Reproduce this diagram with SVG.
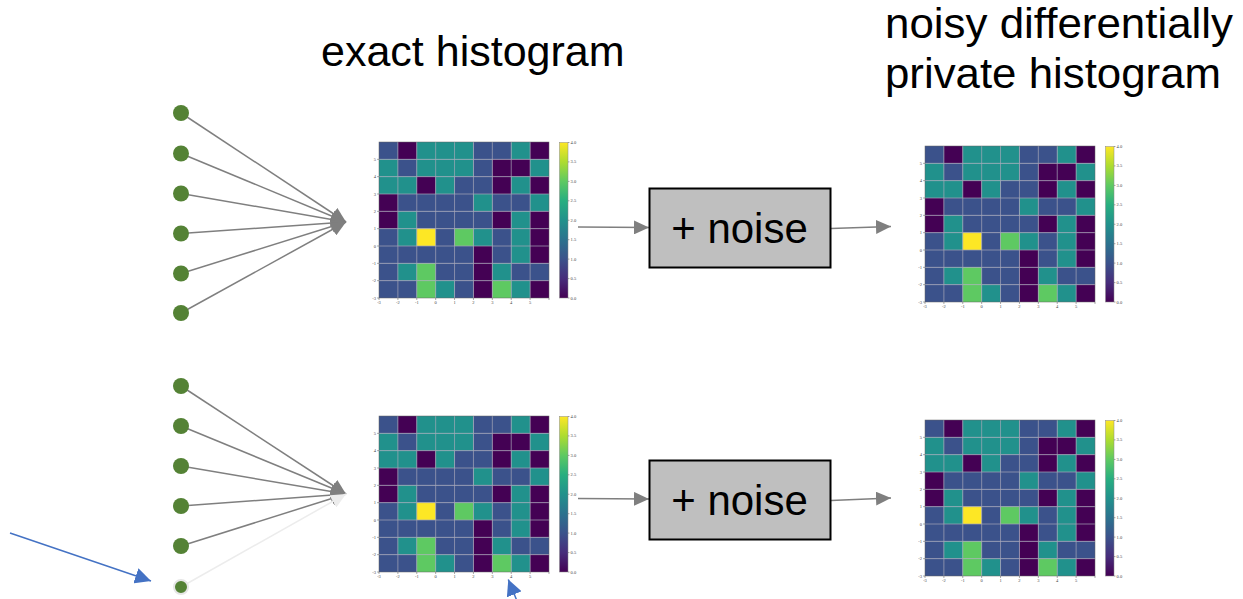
<svg xmlns="http://www.w3.org/2000/svg" xmlns:xlink="http://www.w3.org/1999/xlink" width="1243" height="599" viewBox="0 0 1243 599">
<style>
.D{fill:#440154}.B{fill:#3b528b}.T{fill:#21918c}.G{fill:#5ec962}.Y{fill:#fde725}
.tk{font-family:"Liberation Serif","Times New Roman",serif;font-size:4.5px;fill:#444}
.tkl{stroke:#555;stroke-width:0.5}
.title{font-family:"Liberation Sans",Arial,sans-serif;fill:#000}
.conn{stroke:#7f7f7f;stroke-width:1.5;fill:none}
.node{fill:#548235}
.box{fill:#bfbfbf;stroke:#000;stroke-width:2}
.boxtxt{font-family:"Liberation Sans",Arial,sans-serif;font-size:42px;fill:#000;text-anchor:middle}
</style>
<defs>
<marker id="ag" markerUnits="userSpaceOnUse" markerWidth="15" markerHeight="14" refX="15" refY="7" orient="auto"><path d="M0,0 L15,7 L0,14 z" fill="#7f7f7f"/></marker>
<marker id="al" markerUnits="userSpaceOnUse" markerWidth="15" markerHeight="14" refX="15" refY="7" orient="auto"><path d="M0,0 L15,7 L0,14 z" fill="#ececec"/></marker>
<marker id="ab" markerUnits="userSpaceOnUse" markerWidth="16" markerHeight="16" refX="16" refY="8" orient="auto"><path d="M0,0 L16,8 L0,16 z" fill="#4472c4"/></marker>
<linearGradient id="viridis" x1="0" y1="1" x2="0" y2="0">
<stop offset="0" stop-color="#440154"/><stop offset="0.125" stop-color="#472d7b"/><stop offset="0.25" stop-color="#3b528b"/><stop offset="0.375" stop-color="#2c728e"/><stop offset="0.5" stop-color="#21918c"/><stop offset="0.625" stop-color="#28ae80"/><stop offset="0.75" stop-color="#5ec962"/><stop offset="0.875" stop-color="#addc30"/><stop offset="1" stop-color="#fde725"/>
</linearGradient>
<g id="hm">
<g transform="scale(18.889,17.333)">
<rect class="B" x="0" y="0" width="1" height="1"/><rect class="D" x="1" y="0" width="1" height="1"/><rect class="T" x="2" y="0" width="3" height="1"/><rect class="B" x="5" y="0" width="2" height="1"/><rect class="T" x="7" y="0" width="1" height="1"/><rect class="D" x="8" y="0" width="1" height="1"/>
<rect class="T" x="0" y="1" width="1" height="1"/><rect class="B" x="1" y="1" width="1" height="1"/><rect class="T" x="2" y="1" width="3" height="1"/><rect class="B" x="5" y="1" width="1" height="1"/><rect class="D" x="6" y="1" width="2" height="1"/><rect class="T" x="8" y="1" width="1" height="1"/>
<rect class="T" x="0" y="2" width="2" height="1"/><rect class="D" x="2" y="2" width="1" height="1"/><rect class="T" x="3" y="2" width="1" height="1"/><rect class="B" x="4" y="2" width="2" height="1"/><rect class="D" x="6" y="2" width="1" height="1"/><rect class="T" x="7" y="2" width="1" height="1"/><rect class="D" x="8" y="2" width="1" height="1"/>
<rect class="D" x="0" y="3" width="1" height="1"/><rect class="B" x="1" y="3" width="4" height="1"/><rect class="T" x="5" y="3" width="1" height="1"/><rect class="B" x="6" y="3" width="2" height="1"/><rect class="T" x="8" y="3" width="1" height="1"/>
<rect class="D" x="0" y="4" width="1" height="1"/><rect class="T" x="1" y="4" width="1" height="1"/><rect class="B" x="2" y="4" width="4" height="1"/><rect class="D" x="6" y="4" width="1" height="1"/><rect class="T" x="7" y="4" width="1" height="1"/><rect class="D" x="8" y="4" width="1" height="1"/>
<rect class="B" x="0" y="5" width="1" height="1"/><rect class="T" x="1" y="5" width="1" height="1"/><rect class="Y" x="2" y="5" width="1" height="1"/><rect class="B" x="3" y="5" width="1" height="1"/><rect class="G" x="4" y="5" width="1" height="1"/><rect class="T" x="5" y="5" width="1" height="1"/><rect class="B" x="6" y="5" width="1" height="1"/><rect class="T" x="7" y="5" width="1" height="1"/><rect class="D" x="8" y="5" width="1" height="1"/>
<rect class="B" x="0" y="6" width="5" height="1"/><rect class="D" x="5" y="6" width="1" height="1"/><rect class="B" x="6" y="6" width="1" height="1"/><rect class="T" x="7" y="6" width="1" height="1"/><rect class="D" x="8" y="6" width="1" height="1"/>
<rect class="B" x="0" y="7" width="1" height="1"/><rect class="T" x="1" y="7" width="1" height="1"/><rect class="G" x="2" y="7" width="1" height="1"/><rect class="B" x="3" y="7" width="2" height="1"/><rect class="D" x="5" y="7" width="1" height="1"/><rect class="T" x="6" y="7" width="1" height="1"/><rect class="B" x="7" y="7" width="2" height="1"/>
<rect class="B" x="0" y="8" width="2" height="1"/><rect class="G" x="2" y="8" width="1" height="1"/><rect class="T" x="3" y="8" width="1" height="1"/><rect class="B" x="4" y="8" width="1" height="1"/><rect class="D" x="5" y="8" width="1" height="1"/><rect class="G" x="6" y="8" width="1" height="1"/><rect class="T" x="7" y="8" width="1" height="1"/><rect class="D" x="8" y="8" width="1" height="1"/>
</g>
<path d="M18.89,0V156M37.78,0V156M56.67,0V156M75.56,0V156M94.44,0V156M113.33,0V156M132.22,0V156M151.11,0V156M0,17.33H170M0,34.67H170M0,52H170M0,69.33H170M0,86.67H170M0,104H170M0,121.33H170M0,138.67H170" stroke="#a8a8b8" stroke-width="0.7" fill="none"/>
<rect x="0" y="0" width="170" height="156" fill="none" stroke="#666" stroke-width="0.5"/>
<path class="tkl" d="M0,17.33h-2M0,34.67h-2M0,52h-2M0,69.33h-2M0,86.67h-2M0,104h-2M0,121.33h-2M0,138.67h-2M0,156h-2M0,156v2M18.89,156v2M37.78,156v2M56.67,156v2M75.56,156v2M94.44,156v2M113.33,156v2M132.22,156v2M151.11,156v2M170,156v2"/>
<g class="tk" text-anchor="end">
<text x="-3" y="18.8">5</text><text x="-3" y="36.1">4</text><text x="-3" y="53.5">3</text><text x="-3" y="70.8">2</text><text x="-3" y="88.1">1</text><text x="-3" y="105.5">0</text><text x="-3" y="122.8">-1</text><text x="-3" y="140.1">-2</text><text x="-3" y="157.5">-3</text>
</g>
<g class="tk" text-anchor="middle">
<text x="0" y="162">-3</text><text x="18.89" y="162">-2</text><text x="37.78" y="162">-1</text><text x="56.67" y="162">0</text><text x="75.56" y="162">1</text><text x="94.44" y="162">2</text><text x="113.33" y="162">3</text><text x="132.22" y="162">4</text><text x="151.11" y="162">5</text>
</g>
<rect x="180.5" y="0.5" width="8.5" height="155.5" fill="url(#viridis)" stroke="#888" stroke-width="0.5"/>
<path class="tkl" d="M189,0.5h1.5M189,19.9h1.5M189,39.4h1.5M189,58.8h1.5M189,78.25h1.5M189,97.7h1.5M189,117.1h1.5M189,136.6h1.5M189,156h1.5"/>
<g class="tk">
<text x="191.5" y="2">4.0</text><text x="191.5" y="21.4">3.5</text><text x="191.5" y="40.9">3.0</text><text x="191.5" y="60.3">2.5</text><text x="191.5" y="79.7">2.0</text><text x="191.5" y="99.2">1.5</text><text x="191.5" y="118.6">1.0</text><text x="191.5" y="138.1">0.5</text><text x="191.5" y="157.5">0.0</text>
</g>
</g>
</defs>
<rect width="1243" height="599" fill="#fff"/>
<text class="title" x="321" y="66" font-size="43">exact histogram</text>
<text class="title" x="885" y="38" font-size="42" textLength="348" lengthAdjust="spacingAndGlyphs">noisy differentially</text>
<text class="title" x="885" y="88" font-size="42" textLength="336" lengthAdjust="spacingAndGlyphs">private histogram</text>
<g id="connectors">
<line class="conn" x1="181" y1="113" x2="346" y2="222" marker-end="url(#ag)"/>
<line class="conn" x1="181" y1="153.5" x2="346" y2="222" marker-end="url(#ag)"/>
<line class="conn" x1="181" y1="193.5" x2="346" y2="222" marker-end="url(#ag)"/>
<line class="conn" x1="181" y1="233.5" x2="346" y2="222" marker-end="url(#ag)"/>
<line class="conn" x1="181" y1="273.5" x2="346" y2="222" marker-end="url(#ag)"/>
<line class="conn" x1="181" y1="313" x2="346" y2="222" marker-end="url(#ag)"/>
<line class="conn" x1="181" y1="386" x2="346" y2="494" marker-end="url(#ag)"/>
<line class="conn" x1="181" y1="426" x2="346" y2="494" marker-end="url(#ag)"/>
<line class="conn" x1="181" y1="466" x2="346" y2="494" marker-end="url(#ag)"/>
<line class="conn" x1="181" y1="506" x2="346" y2="494" marker-end="url(#ag)"/>
<line class="conn" x1="181" y1="546" x2="346" y2="494" marker-end="url(#ag)"/>
<line x1="181" y1="587" x2="346" y2="494" stroke="#ececec" stroke-width="1.5" marker-end="url(#al)"/>
<line class="conn" x1="578" y1="227" x2="649" y2="227.5" marker-end="url(#ag)"/>
<line class="conn" x1="831" y1="228.5" x2="891" y2="226.5" marker-end="url(#ag)"/>
<line class="conn" x1="578" y1="498.5" x2="649" y2="499" marker-end="url(#ag)"/>
<line class="conn" x1="831" y1="500.5" x2="891" y2="498" marker-end="url(#ag)"/>
<line x1="10" y1="533" x2="151" y2="581" stroke="#4472c4" stroke-width="1.5" marker-end="url(#ab)"/>
<line x1="517" y1="601" x2="508.3" y2="579.5" stroke="#4472c4" stroke-width="1.5" marker-end="url(#ab)"/>
</g>
<g id="nodes-top">
<circle class="node" cx="181" cy="113" r="8"/>
<circle class="node" cx="181" cy="153.5" r="8"/>
<circle class="node" cx="181" cy="193.5" r="8"/>
<circle class="node" cx="181" cy="233.5" r="8"/>
<circle class="node" cx="181" cy="273.5" r="8"/>
<circle class="node" cx="181" cy="313" r="8"/>
</g>
<g id="nodes-bottom">
<circle class="node" cx="181" cy="386" r="8"/>
<circle class="node" cx="181" cy="426" r="8"/>
<circle class="node" cx="181" cy="466" r="8"/>
<circle class="node" cx="181" cy="506" r="8"/>
<circle class="node" cx="181" cy="546" r="8"/>
<circle class="node" cx="181" cy="587" r="7" stroke="#e6e6e6" stroke-width="2"/>
</g>
<g id="hist-exact-top" transform="translate(379,142)"><use xlink:href="#hm" href="#hm"/></g>
<g id="hist-noisy-top" transform="translate(925,146)"><use xlink:href="#hm" href="#hm"/></g>
<g id="hist-exact-bottom" transform="translate(379,416)"><use xlink:href="#hm" href="#hm"/></g>
<g id="hist-noisy-bottom" transform="translate(925,420)"><use xlink:href="#hm" href="#hm"/></g>
<g id="noise-top"><rect class="box" x="649.5" y="188.5" width="181" height="79"/><text class="boxtxt" x="739.5" y="243">+ noise</text></g>
<g id="noise-bottom"><rect class="box" x="649.5" y="460.5" width="181" height="79"/><text class="boxtxt" x="739.5" y="515">+ noise</text></g>
</svg>
